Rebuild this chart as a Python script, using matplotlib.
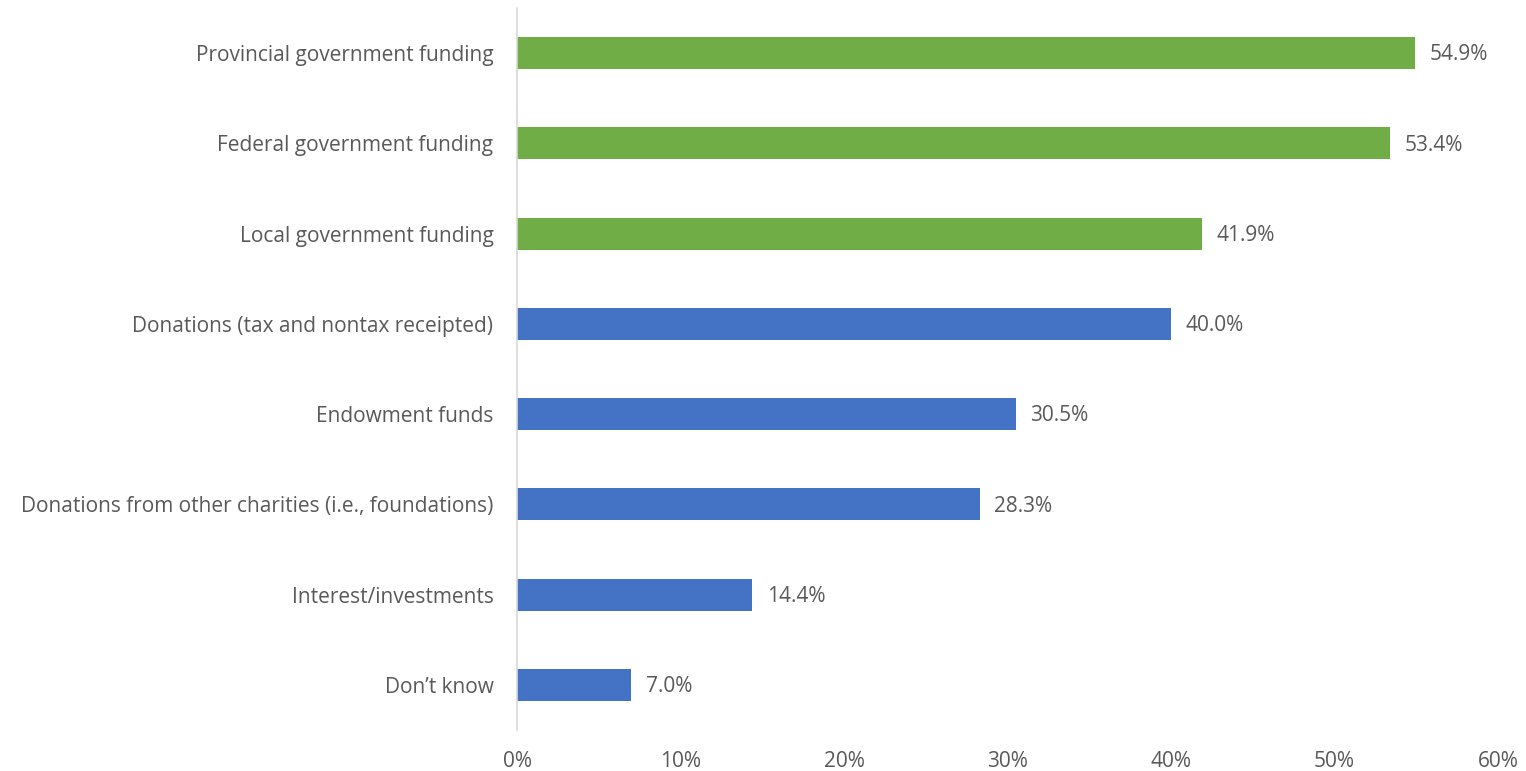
import numpy as np
import matplotlib.pyplot as plt

categorias = ['Provincial government funding', 'Federal government funding', 'Local government funding',
              'Donations (tax and nontax receipted)', 'Endowment funds',
              'Donations from other charities (i.e., foundations)', 'Interest/investments', 'Don\u2019t know']
valores = [54.9, 53.4, 41.9, 40.0, 30.5, 28.3, 14.4, 7.0]
governo = [True, True, True, False, False, False, False, False]

plt.rcParams['font.family'] = ['Open Sans', 'DejaVu Sans']
texto = '#595959'

fig = plt.figure(figsize=(15.26, 7.71), dpi=100)
ax = fig.add_axes([517 / 1526, 41 / 771, 981 / 1526, 722 / 771])

y = np.arange(len(categorias))
cores = ['#70ad47' if g else '#4472c4' for g in governo]
ax.barh(y, valores, height=0.355, color=cores)

# rótulos de valor ao lado das barras
for yi, v in zip(y, valores):
    ax.text(v + 0.9, yi + 0.02, f'{v:.1f}%', va='center', ha='left', fontsize=15, color=texto)

ax.set_ylim(len(categorias) - 0.5, -0.5)
ax.set_xlim(0, 60)
ax.set_yticks(y)
ax.set_yticklabels(categorias, fontsize=15, color=texto)
ax.set_xticks(np.arange(0, 61, 10))
ax.set_xticklabels([f'{t}%' for t in range(0, 61, 10)], fontsize=15, color=texto)
ax.tick_params(length=0)
ax.tick_params(axis='y', pad=17)
ax.tick_params(axis='x', pad=15)
for s in ['top', 'right', 'bottom']:
    ax.spines[s].set_visible(False)
ax.spines['left'].set_color('#d9d9d9')
ax.spines['left'].set_linewidth(1.2)

plt.savefig('out.png', dpi=100)
